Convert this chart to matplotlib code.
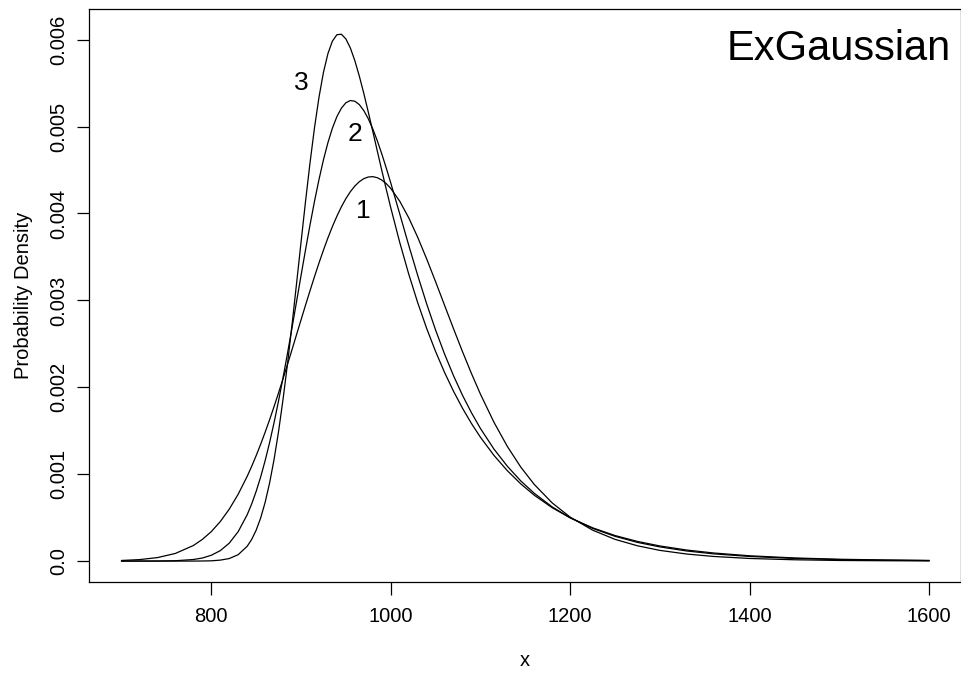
import numpy as np
import matplotlib
matplotlib.use("Agg")
import matplotlib.pyplot as plt

# values, density in units of 1e-6
x_vals = [700, 720, 740, 760, 780, 790, 800, 810, 820, 830, 840, 845, 850, 855, 860, 865, 870, 875,
          880, 885, 890, 895, 900, 905, 910, 915, 920, 925, 930, 935, 940, 945, 950, 955, 960, 965,
          970, 975, 980, 985, 990, 995, 1000, 1010, 1020, 1030, 1040, 1050, 1060, 1070, 1080, 1090,
          1100, 1115, 1130, 1145, 1160, 1180, 1200, 1225, 1250, 1275, 1300, 1330, 1360, 1400, 1450,
          1500, 1550, 1600]
dens_1 = [7, 17, 40, 88, 179, 249, 339, 454, 597, 770, 975, 1090, 1213, 1344, 1482, 1627, 1779, 1937,
          2099, 2265, 2434, 2605, 2775, 2944, 3110, 3272, 3429, 3578, 3719, 3850, 3969, 4077, 4171, 4251,
          4316, 4366, 4401, 4420, 4424, 4412, 4385, 4344, 4289, 4142, 3952, 3728, 3479, 3215, 2944, 2674,
          2410, 2158, 1921, 1599, 1319, 1081, 882, 669, 506, 356, 250, 176, 123, 81, 53, 30, 15, 7, 4, 2]
dens_2 = [0, 0, 1, 4, 18, 35, 67, 120, 206, 339, 533, 657, 802, 967, 1155, 1364, 1595, 1845,
          2112, 2394, 2686, 2984, 3284, 3580, 3866, 4138, 4389, 4617, 4815, 4982, 5115, 5212, 5274, 5300,
          5292, 5253, 5184, 5090, 4973, 4838, 4687, 4524, 4353, 3997, 3637, 3290, 2962, 2659, 2383, 2133,
          1908, 1707, 1526, 1290, 1091, 922, 780, 623, 498, 376, 285, 215, 163, 116, 83, 53, 30, 17, 10, 6]
dens_3 = [0, 0, 0, 0, 0, 1, 3, 11, 29, 74, 170, 249, 355, 495, 675, 899, 1171, 1493,
          1863, 2275, 2721, 3190, 3666, 4135, 4579, 4984, 5335, 5623, 5840, 5984, 6057, 6063, 6009, 5905,
          5759, 5581, 5382, 5167, 4945, 4721, 4498, 4280, 4068, 3669, 3305, 2976, 2679, 2412, 2171, 1954,
          1759, 1583, 1425, 1217, 1040, 888, 758, 614, 498, 383, 294, 226, 174, 127, 93, 61, 36, 21, 13, 7]

curve_labels = ["1", "2", "3"]
label_x = [970, 960, 900]
label_y = [0.00403, 0.00492, 0.00550]

x_ticks = [800, 1000, 1200, 1400, 1600]
y_ticks = [0.0, 0.001, 0.002, 0.003, 0.004, 0.005, 0.006]
y_ticklabels = ["0.0", "0.001", "0.002", "0.003", "0.004", "0.005", "0.006"]

plt.rcParams["font.family"] = ["Liberation Sans", "DejaVu Sans"]

fig = plt.figure(figsize=(9.62, 6.73), dpi=100)
ax = fig.add_axes([0.0928, 0.1348, 0.9065, 0.8514])

x = np.asarray(x_vals, dtype=float)
for dens in (dens_1, dens_2, dens_3):
    ax.plot(x, np.asarray(dens, dtype=float) * 1e-6, color="black", linewidth=0.9)

for lab, lx, ly in zip(curve_labels, label_x, label_y):
    ax.text(lx, ly, lab, fontsize=19, ha="center", va="center")

ax.text(0.988, 0.93, "ExGaussian", transform=ax.transAxes, fontsize=30, ha="right", va="center")

ax.set_xlim(664, 1636)
ax.set_ylim(-0.000244, 0.00635)
ax.set_xticks(x_ticks)
ax.set_xticklabels([str(t) for t in x_ticks])
ax.set_yticks(y_ticks)
ax.set_yticklabels(y_ticklabels, rotation=90, va="center")
ax.tick_params(axis="both", direction="out", length=9, width=0.9, labelsize=14.5)
ax.tick_params(axis="x", pad=9)
ax.tick_params(axis="y", pad=6)
for sp in ax.spines.values():
    sp.set_linewidth(0.9)

ax.set_xlabel("x", fontsize=14.5, labelpad=18)
ax.set_ylabel("Probability Density", fontsize=14.5, labelpad=12)

fig.savefig("out.png", dpi=100)
